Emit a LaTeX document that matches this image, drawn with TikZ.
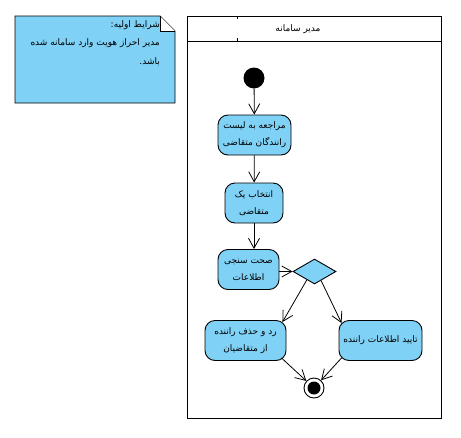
\documentclass[tikz,border=0pt]{standalone}
\usepackage{fontspec}
\usetikzlibrary{arrows.meta,shapes.geometric,calc}
\TeXXeTstate=1
\newfontfamily\arabicfont[Script=Arabic]{DejaVu Sans}
\newcommand{\fa}[1]{\beginR #1\endR}
\definecolor{actfill}{RGB}{127,209,246}
\begin{document}
\begin{tikzpicture}[x=1pt,y=-1pt,
  act/.style={draw, fill=actfill, rounded corners=10pt, line width=0.9pt, align=center,
    font=\arabicfont\fontsize{9}{17}\selectfont, inner sep=0pt, minimum height=40pt},
  flow/.style={draw, line width=0.8pt, -{Straight Barb[length=10pt,width=11pt]}},
  txt/.style={font=\arabicfont\fontsize{9}{18.5}\selectfont, inner sep=0pt}
]
\useasboundingbox (0,0) rectangle (461,437);
% note
\fill[actfill] (15,16) -- (160,16) -- (175,31) -- (175,103) -- (15,103) -- cycle;
\draw[line width=0.9pt] (15,16) -- (160,16) -- (175,31) -- (175,103) -- (15,103) -- cycle;
\fill[white] (160,16) -- (175,31) -- (160,31) -- cycle;
\draw[line width=0.8pt] (160,16) -- (160,31) -- (175,31);
\node[txt, anchor=north east, align=right] (note) at (160,20)
  {\fa{شرایط اولیه:}\\\fa{مدیر احراز هویت وارد سامانه شده}\\\fa{باشد.}};
% swimlane
\draw[line width=0.9pt] (187,16) rectangle (441,418);
\draw[line width=0.9pt] (187,41) -- (441,41);
\draw[line width=0.8pt] (237,16) -- (237,19) (237,38) -- (237,41);
\node[txt] (lane) at (298,29) {\fa{مدیر سامانه}};
% nodes
\node[circle, fill=black, minimum size=21pt, inner sep=0pt] (init) at (254,78) {};
\node[act, minimum width=73pt] (box1) at (254.5,135) {\fa{مراجعه به لیست}\\\fa{رانندگان متقاضی}};
\node[act, minimum width=58pt] (box2) at (254,203) {\fa{انتخاب یک}\\\fa{متقاضی}};
\node[act, minimum width=61pt] (box3) at (248.5,269.5) {\fa{صحت سنجی}\\\fa{اطلاعات}};
\node[diamond, draw, fill=actfill, line width=0.9pt, minimum width=43pt, minimum height=25pt, inner sep=0pt] (dia) at (314.5,271.5) {};
\node[act, minimum width=81pt] (box4) at (245.5,340.5) {\fa{رد و حذف راننده}\\\fa{از متقاضیان}};
\node[act, minimum width=83pt] (box5) at (380.5,340.5) {\fa{تایید اطلاعات راننده}};
\node[circle, draw, fill=white, line width=0.9pt, minimum size=20pt, inner sep=0pt] (final) at (314,388) {};
\fill[black] (final.center) circle (6.5);
% connectors
\draw[flow] (init) -- (box1);
\draw[flow] (box1) -- (box2);
\draw[flow] (box2.south) -- (box2.south |- box3.north);
\draw[flow] (box3.east |- dia.west) -- (dia.west);
\draw[flow] ($(dia.west)!0.65!(dia.south)$) -- ($(box4.north east)+(-4,2)$);
\draw[flow] ($(dia.east)!0.7!(dia.south)$) -- ($(box5.north west)+(3,3)$);
\draw[flow] ($(box4.south east)+(-5,-3)$) -- (final);
\draw[flow] ($(box5.south west)+(3,-3)$) -- (final);
\end{tikzpicture}
\end{document}
